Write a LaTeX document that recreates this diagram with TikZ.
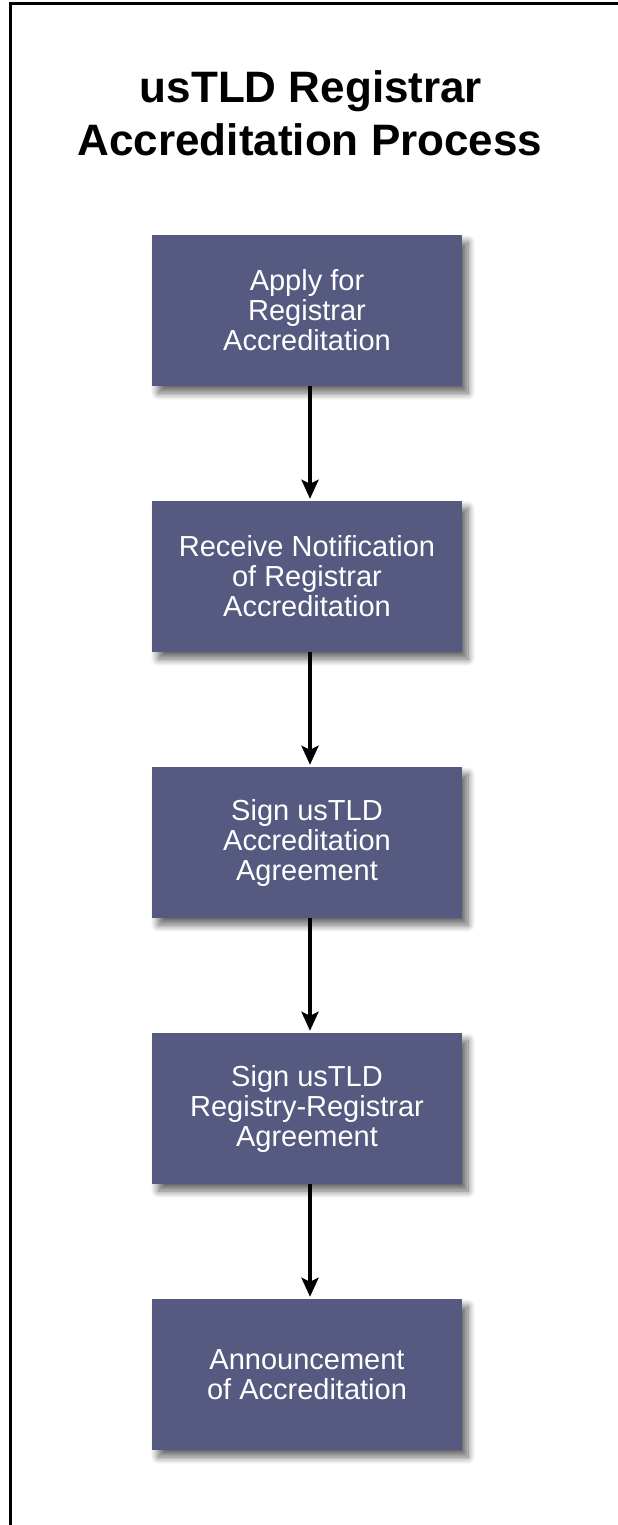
\documentclass[tikz,border=0pt]{standalone}
\usepackage{fontspec}
\setmainfont{Liberation Sans}
\usetikzlibrary{arrows.meta,shadows.blur}
\definecolor{boxblue}{RGB}{86,90,128}
\tikzset{
  stepbox/.style={draw=none, fill=boxblue, minimum width=310pt, minimum height=151pt,
    text=white, align=center, inner sep=0pt,
    font=\fontsize{29pt}{30pt}\selectfont,
    blur shadow={shadow xshift=6pt, shadow yshift=-7pt, shadow blur steps=10, shadow blur radius=7pt, shadow opacity=60}},
  flow/.style={line width=4pt, -{Stealth[length=19pt,width=17pt,inset=4pt]}},
  titletext/.style={font=\bfseries\fontsize{44pt}{46pt}\selectfont, anchor=base, inner sep=0pt},
  frame/.style={line width=2.2pt, black}
}
\begin{document}
\begin{tikzpicture}[x=1pt,y=1pt]
\useasboundingbox (0,0) rectangle (618,-1525);
\coordinate (tl) at (10.5,-3.5);
\coordinate (tr) at (618,-3.5);
\coordinate (bl) at (10.5,-1525);
\draw[frame] (tr) -- (tl) -- (bl);
\node[titletext] (t1) at (311,-103) {usTLD Registrar};
\node[titletext] (t2) at (310,-156) {Accreditation Process};
\node[stepbox] (b1) at (307,-310.5) {Apply for\\Registrar\\Accreditation};
\node[stepbox] (b2) at (307,-576.5) {Receive Notification\\of Registrar\\Accreditation};
\node[stepbox] (b3) at (307,-842.5) {Sign usTLD\\Accreditation\\Agreement};
\node[stepbox] (b4) at (307,-1108.5) {Sign usTLD\\Registry-Registrar\\Agreement};
\node[stepbox] (b5) at (307,-1374.5) {Announcement\\of Accreditation};
\foreach \a/\b in {b1/b2,b2/b3,b3/b4,b4/b5}{
  \draw[flow] ([xshift=3pt]\a.south) -- ([xshift=3pt,yshift=2pt]\b.north);
}
\end{tikzpicture}
\end{document}
